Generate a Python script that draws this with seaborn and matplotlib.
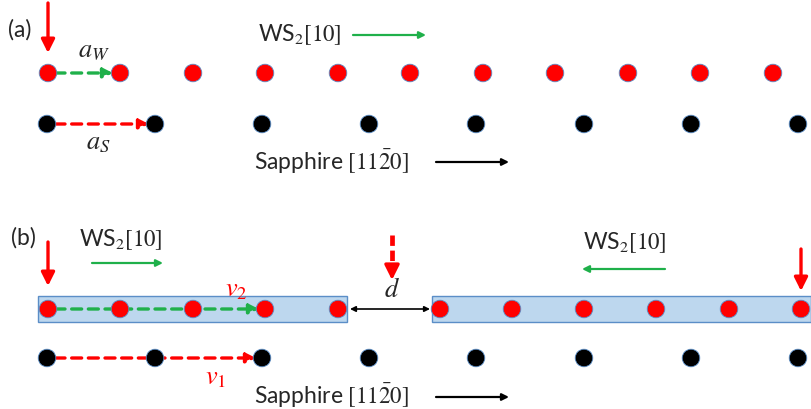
import matplotlib
matplotlib.use("Agg")
import matplotlib.pyplot as plt
from matplotlib.patches import Rectangle
import seaborn as sns
import pandas as pd

# lattice sites (pixel positions of the schematic)
ws_a_x = [48, 120, 193, 265, 338, 410, 483, 555, 628, 700, 773]
sap_x = [47, 155, 262, 369, 476, 584, 691, 798]
ws_b_left_x = [48, 120, 193, 265, 338]
ws_b_right_x = [440, 512, 584, 656, 729, 801]
row_y = {"ws_a": 74, "sap_a": 125, "ws_b": 310, "sap_b": 359}

RED = "#ff0000"
GREEN = "#1fb04a"
BLUE_FILL = "#bdd7ee"
BLUE_EDGE = "#5b8ec7"

sns.set_theme(style="white")
plt.rcParams["font.family"] = ["Lato", "DejaVu Sans"]
plt.rcParams["mathtext.fontset"] = "stix"

rows = []
for x in ws_a_x:
    rows.append((x, row_y["ws_a"], "WS2"))
for x in sap_x:
    rows.append((x, row_y["sap_a"], "Sapphire"))
for x in ws_b_left_x + ws_b_right_x:
    rows.append((x, row_y["ws_b"], "WS2"))
for x in sap_x:
    rows.append((x, row_y["sap_b"], "Sapphire"))
dots = pd.DataFrame(rows, columns=["x", "y", "layer"])

fig = plt.figure(figsize=(8.11, 4.10), dpi=100)
ax = fig.add_axes([0, 0, 1, 1])

# ribbons in panel (b)
for x0, x1 in [(38, 347), (432, 811)]:
    ax.add_patch(Rectangle((x0, 297), x1 - x0, 26, facecolor=BLUE_FILL,
                           edgecolor=BLUE_EDGE, lw=1.0, zorder=1))

def arrow(x0, y0, x1, y1, color, lw=2.2, ls="-", ms=16, style="-|>"):
    ax.annotate("", xy=(x1, y1), xytext=(x0, y0),
                arrowprops=dict(arrowstyle=style, color=color, lw=lw,
                                linestyle=ls, mutation_scale=ms,
                                shrinkA=0, shrinkB=0),
                zorder=2)

# dashed lattice vectors (drawn under the dots)
arrow(55, 74, 113, 74, GREEN, lw=2.4, ls=(0, (3, 2)), ms=14)
arrow(55, 125, 149, 125, RED, lw=2.4, ls=(0, (3, 2)), ms=14)
arrow(55, 310, 259, 310, GREEN, lw=2.4, ls=(0, (3, 2)), ms=14)
arrow(55, 359, 256, 359, RED, lw=2.4, ls=(0, (3, 2)), ms=14)

sns.scatterplot(data=dots, x="x", y="y", hue="layer",
                palette={"WS2": RED, "Sapphire": "black"},
                s=160, edgecolor=BLUE_EDGE, linewidth=0.6, legend=False,
                ax=ax, zorder=3)
ax.set_xlim(0, 811)
ax.set_ylim(410, 0)
ax.axis("off")

# red markers
arrow(48, 4, 48, 54, RED, lw=2.4, ms=20)
arrow(48, 243, 48, 287, RED, lw=2.4, ms=20)
arrow(801, 250, 801, 292, RED, lw=2.4, ms=20)
# dashed marker above the gap: dashed shaft + solid head
ax.plot([392, 392], [236, 268], color=RED, lw=3.4, ls=(0, (2.2, 1.0)),
        solid_capstyle="butt", dash_capstyle="butt", zorder=2)
arrow(392, 266, 392, 281, RED, lw=2.4, ms=22)

# direction arrows
arrow(353, 36, 426, 36, GREEN, lw=1.6, ms=10)
arrow(92, 264, 163, 264, GREEN, lw=1.6, ms=10)
arrow(665, 270, 582, 270, GREEN, lw=1.6, ms=10)
arrow(436, 163, 509, 163, "black", lw=1.6, ms=10)
arrow(436, 398, 509, 398, "black", lw=1.6, ms=10)
arrow(350, 310, 430, 310, "black", lw=1.2, ms=8, style="<|-|>")

fs = 16.5
ax.text(8, 30, "(a)", fontsize=fs, va="center", ha="left")
ax.text(11, 238, "(b)", fontsize=fs, va="center", ha="left")
ax.text(258, 35, r"WS$_2$$[10]$", fontsize=fs, va="center", ha="left")
ax.text(79, 240, r"WS$_2$$[10]$", fontsize=fs, va="center", ha="left")
ax.text(583, 243, r"WS$_2$$[10]$", fontsize=fs, va="center", ha="left")
ax.text(254, 162, r"Sapphire $[11\bar{2}0]$", fontsize=fs, va="center", ha="left")
ax.text(254, 396, r"Sapphire $[11\bar{2}0]$", fontsize=fs, va="center", ha="left")

ax.text(94, 51, r"$a_W$", fontsize=19, va="center", ha="center")
ax.text(98, 143, r"$a_S$", fontsize=19, va="center", ha="center")
ax.text(236, 289, r"$v_2$", fontsize=19, va="center", ha="center", color=RED)
ax.text(216, 378, r"$v_1$", fontsize=19, va="center", ha="center", color=RED)
ax.text(392, 290, r"$d$", fontsize=19, va="center", ha="center")

fig.savefig("out.png", dpi=100)
